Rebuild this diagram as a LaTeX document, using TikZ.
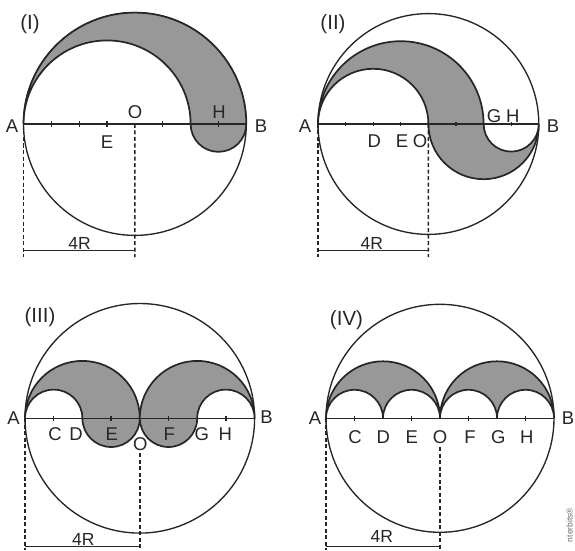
\documentclass[tikz,border=0pt]{standalone}
\usepackage{fontspec}
\setmainfont{Liberation Sans}
\definecolor{ink}{RGB}{38,38,38}
\definecolor{shadegray}{RGB}{152,152,152}
\definecolor{wmark}{RGB}{110,110,110}
\begin{document}
\begin{tikzpicture}[x=1pt,y=1pt,
  bigcirc/.style={draw=ink,line width=1.35pt},
  shaded/.style={fill=shadegray,draw=ink,line width=1.7pt},
  axis/.style={draw=ink,line width=1.6pt},
  tickmark/.style={draw=ink,line width=1.3pt},
  dimdash/.style={draw=ink,line width=1.5pt,dash pattern=on 4pt off 2.5pt},
  dimline/.style={draw=ink,line width=1.5pt},
  lbl/.style={text=ink,inner sep=0pt,font=\fontsize{18.5}{20}\selectfont},
  numlbl/.style={text=ink,inner sep=0pt,font=\fontsize{20.5}{22}\selectfont},
  dimlbl/.style={text=ink,inner sep=0pt,font=\fontsize{17.5}{19}\selectfont}]
\useasboundingbox (0,0) rectangle (575,550);

% ---------------- Panel I ----------------
\begin{scope}[shift={(23.5,426)},scale=27.85]
  \draw[bigcirc] (4,0) circle[radius=4];
  \filldraw[shaded] (0,0) arc[start angle=180,end angle=0,radius=4]
     arc[start angle=0,end angle=-180,radius=1]
     arc[start angle=0,end angle=180,radius=3] -- cycle;
  \coordinate (IA) at (0,0);
  \coordinate (IB) at (8,0);
  \coordinate (IO) at (4,0);
  \draw[axis] (IA) -- (IB);
  \foreach \k in {1,2,3,5,7} \draw[tickmark] (\k,-0.09) -- (\k,0.09);
\end{scope}
\coordinate (IAd) at (23.5,293);
\coordinate (IOd) at (134.9,293);
\coordinate (IAh) at (23.5,299.5);
\coordinate (IOh) at (134.9,299.5);
\draw[dimdash] (IA) -- (IAd);
\draw[dimdash] (IO) -- (IOd);
\draw[dimline] (IAh) -- (IOh);
\node[numlbl] (Inum) at (30,525.5) {(I)};
\node[lbl] (IAl) at (12,424) {A};
\node[lbl] (IBl) at (261,424) {B};
\node[lbl] (IOl) at (135,437.5) {O};
\node[lbl] (IHl) at (219,438) {H};
\node[lbl] (IEl) at (107,408) {E};
\node[dimlbl] (I4R) at (79.5,306.5) {4R};

% ---------------- Panel II ----------------
\begin{scope}[shift={(318,426)},scale=27.6]
  \draw[bigcirc] (4,0) circle[radius=4];
  \filldraw[shaded] (0,0) arc[start angle=180,end angle=0,radius=3]
     arc[start angle=180,end angle=360,radius=1]
     arc[start angle=0,end angle=-180,radius=2]
     arc[start angle=0,end angle=180,radius=2] -- cycle;
  \coordinate (IIA) at (0,0);
  \coordinate (IIB) at (8,0);
  \coordinate (IIO) at (4,0);
  \draw[axis] (IIA) -- (IIB);
  \foreach \k in {1,2,3,5,7} \draw[tickmark] (\k,-0.09) -- (\k,0.09);
\end{scope}
\coordinate (IIAd) at (318,293);
\coordinate (IIOd) at (428.4,293);
\coordinate (IIAh) at (318,299.5);
\coordinate (IIOh) at (428.4,299.5);
\draw[dimdash] (IIA) -- (IIAd);
\draw[dimdash] (IIO) -- (IIOd);
\draw[dimline] (IIAh) -- (IIOh);
\node[numlbl] (IInum) at (333,525.5) {(II)};
\node[lbl] (IIAl) at (305,424) {A};
\node[lbl] (IIBl) at (553,424) {B};
\node[lbl] (IIGl) at (494,434) {G};
\node[lbl] (IIHl) at (512.7,434) {H};
\node[lbl] (IIDl) at (374.3,409) {D};
\node[lbl] (IIEl) at (402,409) {E};
\node[lbl] (IIOl) at (420,409) {O};
\node[dimlbl] (II4R) at (371.7,307) {4R};

% ---------------- Panel III ----------------
\begin{scope}[shift={(25,131.7)},scale=28.7]
  \draw[bigcirc] (4,0) circle[radius=4];
  \filldraw[shaded] (0,0) arc[start angle=180,end angle=0,radius=2]
     arc[start angle=0,end angle=-180,radius=1]
     arc[start angle=0,end angle=180,radius=1] -- cycle;
  \filldraw[shaded] (8,0) arc[start angle=0,end angle=180,radius=2]
     arc[start angle=180,end angle=360,radius=1]
     arc[start angle=180,end angle=0,radius=1] -- cycle;
  \coordinate (IIIA) at (0,0);
  \coordinate (IIIB) at (8,0);
  \draw[axis] (IIIA) -- (IIIB);
  \foreach \k in {1,3,5,7} \draw[tickmark] (\k,-0.09) -- (\k,0.09);
\end{scope}
\coordinate (IIIOt) at (139.8,97);
\coordinate (IIIAd) at (25,0);
\coordinate (IIIOd) at (139.8,0);
\coordinate (IIIAh) at (25,3.3);
\coordinate (IIIOh) at (139.8,3.3);
\draw[dimdash] (IIIA) -- (IIIAd);
\draw[dimdash] (IIIOt) -- (IIIOd);
\draw[dimline] (IIIAh) -- (IIIOh);
\node[numlbl] (IIInum) at (40,233) {(III)};
\node[lbl] (IIIAl) at (13.5,132) {A};
\node[lbl] (IIIBl) at (266.5,133) {B};
\node[lbl] (IIICl) at (55,116) {C};
\node[lbl] (IIIDl) at (76,116) {D};
\node[lbl] (IIIEl) at (111.7,116) {E};
\node[lbl] (IIIFl) at (169.3,116) {F};
\node[lbl] (IIIGl) at (201.7,116) {G};
\node[lbl] (IIIHl) at (225.3,116) {H};
\node[lbl] (IIIOl) at (140.3,106) {O};
\node[dimlbl] (III4R) at (83.3,11) {4R};

% ---------------- Panel IV ----------------
\begin{scope}[shift={(326,131.7)},scale=28.5]
  \draw[bigcirc] (4,0) circle[radius=4];
  \filldraw[shaded] (0,0) arc[start angle=180,end angle=0,radius=2]
     arc[start angle=0,end angle=180,radius=1]
     arc[start angle=0,end angle=180,radius=1] -- cycle;
  \filldraw[shaded] (4,0) arc[start angle=180,end angle=0,radius=2]
     arc[start angle=0,end angle=180,radius=1]
     arc[start angle=0,end angle=180,radius=1] -- cycle;
  \coordinate (IVA) at (0,0);
  \coordinate (IVB) at (8,0);
  \draw[axis] (IVA) -- (IVB);
  \foreach \k in {1,3,5,7} \draw[tickmark] (\k,-0.09) -- (\k,0.09);
\end{scope}
\coordinate (IVOt) at (440,103);
\coordinate (IVAd) at (326,0);
\coordinate (IVOd) at (440,0);
\coordinate (IVAh) at (326,3.3);
\coordinate (IVOh) at (440,3.3);
\draw[dimdash] (IVA) -- (IVAd);
\draw[dimdash] (IVOt) -- (IVOd);
\draw[dimline] (IVAh) -- (IVOh);
\node[numlbl] (IVnum) at (346.5,230) {(IV)};
\node[lbl] (IVAl) at (315,132) {A};
\node[lbl] (IVBl) at (568,132) {B};
\node[lbl] (IVCl) at (355,113.3) {C};
\node[lbl] (IVDl) at (383.3,113.3) {D};
\node[lbl] (IVEl) at (411.7,113.3) {E};
\node[lbl] (IVOl) at (440,113.3) {O};
\node[lbl] (IVFl) at (470,113.3) {F};
\node[lbl] (IVGl) at (498.3,113.3) {G};
\node[lbl] (IVHl) at (526.7,113.3) {H};
\node[dimlbl] (IV4R) at (381.7,14) {4R};

\node[text=wmark,inner sep=0pt,rotate=90,font=\fontsize{8.5}{10}\selectfont] (wm) at (569.5,25) {nterbits®};
\end{tikzpicture}
\end{document}
